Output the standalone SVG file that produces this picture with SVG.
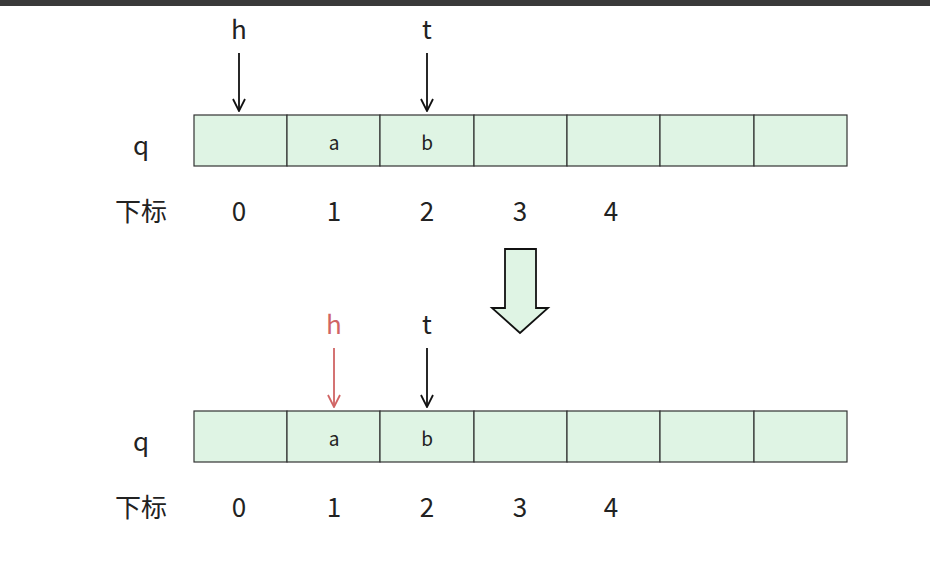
<svg xmlns="http://www.w3.org/2000/svg" width="930" height="568" viewBox="0 0 930 568">
<style>
text{font-family:"Noto Sans CJK SC","Noto Sans",sans-serif;fill:#222;text-anchor:middle;dominant-baseline:central}
.big{font-size:26px}
.cell{fill:#dff4e4;stroke:#333;stroke-width:1.2}
.ptr{stroke:#111;stroke-width:1.8;fill:none}
.red{stroke:#d06464}
.sm{font-size:19px}
</style>
<defs>
<marker id="ah" viewBox="0 0 14 14" refX="13" refY="7" markerWidth="14" markerHeight="14" markerUnits="userSpaceOnUse" orient="auto">
<path d="M1,1 L13,7 L1,13" fill="none" stroke="#111" stroke-width="1.8"/>
</marker>
<marker id="ahr" viewBox="0 0 14 14" refX="13" refY="7" markerWidth="14" markerHeight="14" markerUnits="userSpaceOnUse" orient="auto">
<path d="M1,1 L13,7 L1,13" fill="none" stroke="#d06464" stroke-width="1.8"/>
</marker>
</defs>
<rect x="0" y="0" width="930" height="6" fill="#3a3a3a"/>
<rect width="930" height="562" y="6" fill="#fff"/>
<g id="row1">
<text class="big" x="141" y="143">q</text>
<rect class="cell" x="194" y="115" width="93" height="51"/>
<rect class="cell" x="287" y="115" width="93" height="51"/>
<rect class="cell" x="380" y="115" width="94" height="51"/>
<rect class="cell" x="474" y="115" width="93" height="51"/>
<rect class="cell" x="567" y="115" width="93" height="51"/>
<rect class="cell" x="660" y="115" width="94" height="51"/>
<rect class="cell" x="754" y="115" width="93" height="51"/>
<text class="sm" x="334" y="141">a</text>
<text class="sm" x="427" y="141">b</text>
<text class="big" x="141" y="209">下标</text>
<text class="big" x="239" y="209">0</text>
<text class="big" x="334" y="209">1</text>
<text class="big" x="427" y="209">2</text>
<text class="big" x="520" y="209">3</text>
<text class="big" x="611" y="209">4</text>
</g>
<g id="pointers1">
<text class="big" x="239" y="27">h</text>
<text class="big" x="427" y="27">t</text>
</g>
<g id="row2">
<text class="big" x="141" y="439">q</text>
<rect class="cell" x="194" y="411" width="93" height="51"/>
<rect class="cell" x="287" y="411" width="93" height="51"/>
<rect class="cell" x="380" y="411" width="94" height="51"/>
<rect class="cell" x="474" y="411" width="93" height="51"/>
<rect class="cell" x="567" y="411" width="93" height="51"/>
<rect class="cell" x="660" y="411" width="94" height="51"/>
<rect class="cell" x="754" y="411" width="93" height="51"/>
<text class="sm" x="334" y="437">a</text>
<text class="sm" x="427" y="437">b</text>
<text class="big" x="141" y="505">下标</text>
<text class="big" x="239" y="505">0</text>
<text class="big" x="334" y="505">1</text>
<text class="big" x="427" y="505">2</text>
<text class="big" x="520" y="505">3</text>
<text class="big" x="611" y="505">4</text>
</g>
<g id="pointers2">
<text class="big" x="334" y="322" style="fill:#d06464">h</text>
<text class="big" x="427" y="322">t</text>
</g>
<g id="transition">
<path d="M505,249 H536 V308 H548 L520,333 L492,308 H505 Z" fill="#dff4e4" stroke="#111" stroke-width="1.8" stroke-linejoin="miter"/>
</g>
<g id="connectors">
<line class="ptr" x1="239" y1="53" x2="239" y2="111" marker-end="url(#ah)"/>
<line class="ptr" x1="427" y1="53" x2="427" y2="111" marker-end="url(#ah)"/>
<line class="ptr red" x1="334" y1="348" x2="334" y2="407" marker-end="url(#ahr)"/>
<line class="ptr" x1="427" y1="348" x2="427" y2="407" marker-end="url(#ah)"/>
</g>
</svg>
